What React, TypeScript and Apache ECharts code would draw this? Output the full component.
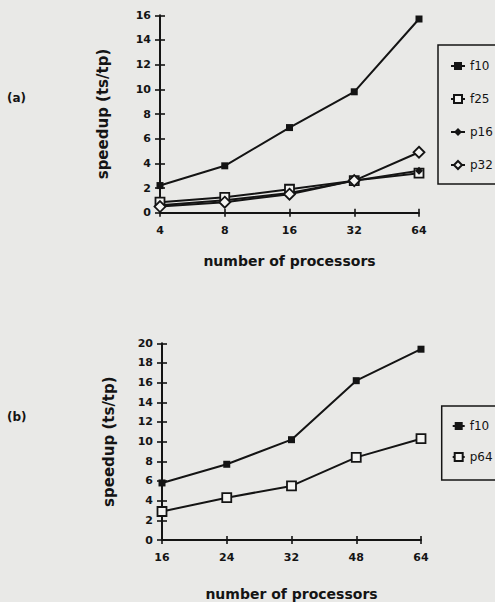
import React, { useEffect, useRef } from "react";
import * as echarts from "echarts";

const catsA = ["4", "8", "16", "32", "64"];
const f10A = [2.2, 3.8, 6.9, 9.8, 15.7];
const f25A = [0.85, 1.25, 1.9, 2.6, 3.2];
const p16A = [0.6, 1.0, 1.6, 2.6, 3.4];
const p32A = [0.5, 0.85, 1.5, 2.6, 4.9];

const catsB = ["16", "24", "32", "48", "64"];
const f10B = [5.8, 7.7, 10.2, 16.2, 19.4];
const p64B = [2.9, 4.3, 5.5, 8.4, 10.3];

const FONT = "DejaVu Sans";
const INK = "#141414";

function xAxes(gridIndex: number, cats: string[], nameGap: number) {
  const base = {
    type: "category" as const,
    gridIndex,
    data: cats,
    boundaryGap: false,
    position: "bottom" as const,
  };
  return [
    {
      ...base,
      name: "number of processors",
      nameLocation: "middle",
      nameGap,
      nameTextStyle: { fontFamily: FONT, fontSize: 14, fontWeight: "bold", color: INK },
      axisLine: { show: true, onZero: false, lineStyle: { color: INK, width: 2 } },
      axisTick: { show: true, inside: false, length: 4, lineStyle: { color: INK, width: 1.6 } },
      axisLabel: { margin: 12, fontFamily: FONT, fontSize: 11, fontWeight: "bold", color: INK },
      splitLine: { show: false },
    },
    {
      ...base,
      axisLine: { show: false },
      axisTick: { show: true, inside: true, length: 4, lineStyle: { color: INK, width: 1.6 } },
      axisLabel: { show: false },
      splitLine: { show: false },
    },
  ];
}

function yAxes(gridIndex: number, max: number, nameGap: number) {
  const base = {
    type: "value" as const,
    gridIndex,
    min: 0,
    max,
    interval: 2,
    position: "left" as const,
  };
  return [
    {
      ...base,
      name: "speedup (ts/tp)",
      nameLocation: "middle",
      nameGap,
      nameTextStyle: { fontFamily: FONT, fontSize: 15, fontWeight: "bold", color: INK },
      axisLine: { show: true, onZero: false, lineStyle: { color: INK, width: 2 } },
      axisTick: { show: true, inside: false, length: 5, lineStyle: { color: INK, width: 1.6 } },
      axisLabel: { margin: 9, fontFamily: FONT, fontSize: 11, fontWeight: "bold", color: INK },
      splitLine: { show: false },
    },
    {
      ...base,
      axisLine: { show: false },
      axisTick: { show: true, inside: true, length: 5, lineStyle: { color: INK, width: 1.6 } },
      axisLabel: { show: false },
      splitLine: { show: false },
    },
  ];
}

function lineSeries(
  name: string,
  data: number[],
  axisIdx: number,
  symbol: string,
  size: number,
  open: boolean
) {
  return {
    type: "line",
    name,
    data,
    xAxisIndex: axisIdx,
    yAxisIndex: axisIdx,
    symbol,
    symbolSize: size,
    showAllSymbol: true,
    lineStyle: { color: INK, width: 2 },
    itemStyle: {
      color: open ? "#f4f4f2" : INK,
      borderColor: INK,
      borderWidth: open ? 1.8 : 0,
    },
    emphasis: { disabled: true },
  };
}

export default function App() {
  const ref = useRef<HTMLDivElement>(null);

  useEffect(() => {
    document.body.style.margin = "0";
    if (!ref.current) return;
    const chart = echarts.init(ref.current, null, { renderer: "svg" });
    const legendText = { fontFamily: FONT, fontSize: 12, color: INK };
    chart.setOption({
      animation: false,
      backgroundColor: "#e9e9e7",
      grid: [
        { left: 160, top: 15.3, width: 259, height: 197.4 },
        { left: 162, top: 343.3, width: 259, height: 197.4 },
      ],
      xAxis: [...xAxes(0, catsA, 41), ...xAxes(1, catsB, 47)],
      yAxis: [...yAxes(0, 16, 50), ...yAxes(1, 20, 46)],
      legend: [
        {
          data: ["f10", "f25", "p16", "p32"],
          orient: "vertical",
          left: 438,
          top: 45,
          padding: [15, 40, 13, 12],
          itemGap: 21,
          itemWidth: 14,
          itemHeight: 10,
          borderColor: INK,
          borderWidth: 1.5,
          textStyle: legendText,
          selectedMode: false,
        },
        {
          data: ["f10", "p64"],
          orient: "vertical",
          left: 441.7,
          top: 406,
          padding: [14, 40, 17, 10],
          itemGap: 19,
          itemWidth: 12,
          itemHeight: 10,
          borderColor: INK,
          borderWidth: 1.5,
          textStyle: legendText,
          selectedMode: false,
        },
      ],
      graphic: [
        { type: "text", left: 7, top: 92, style: { text: "(a)", font: `bold 12px '${FONT}'`, fill: INK } },
        { type: "text", left: 7, top: 411, style: { text: "(b)", font: `bold 12px '${FONT}'`, fill: INK } },
      ],
      series: [
        lineSeries("f10", f10A, 0, "rect", 7, false),
        lineSeries("f25", f25A, 0, "rect", 9, true),
        lineSeries("p16", p16A, 0, "diamond", 8, false),
        lineSeries("p32", p32A, 0, "diamond", 11, true),
        lineSeries("f10", f10B, 2, "rect", 7, false),
        lineSeries("p64", p64B, 2, "rect", 9, true),
      ],
    });
    return () => chart.dispose();
  }, []);

  return (
    <div
      ref={ref}
      style={{ position: "absolute", left: 0, top: 0, width: 495, height: 602 }}
    />
  );
}
